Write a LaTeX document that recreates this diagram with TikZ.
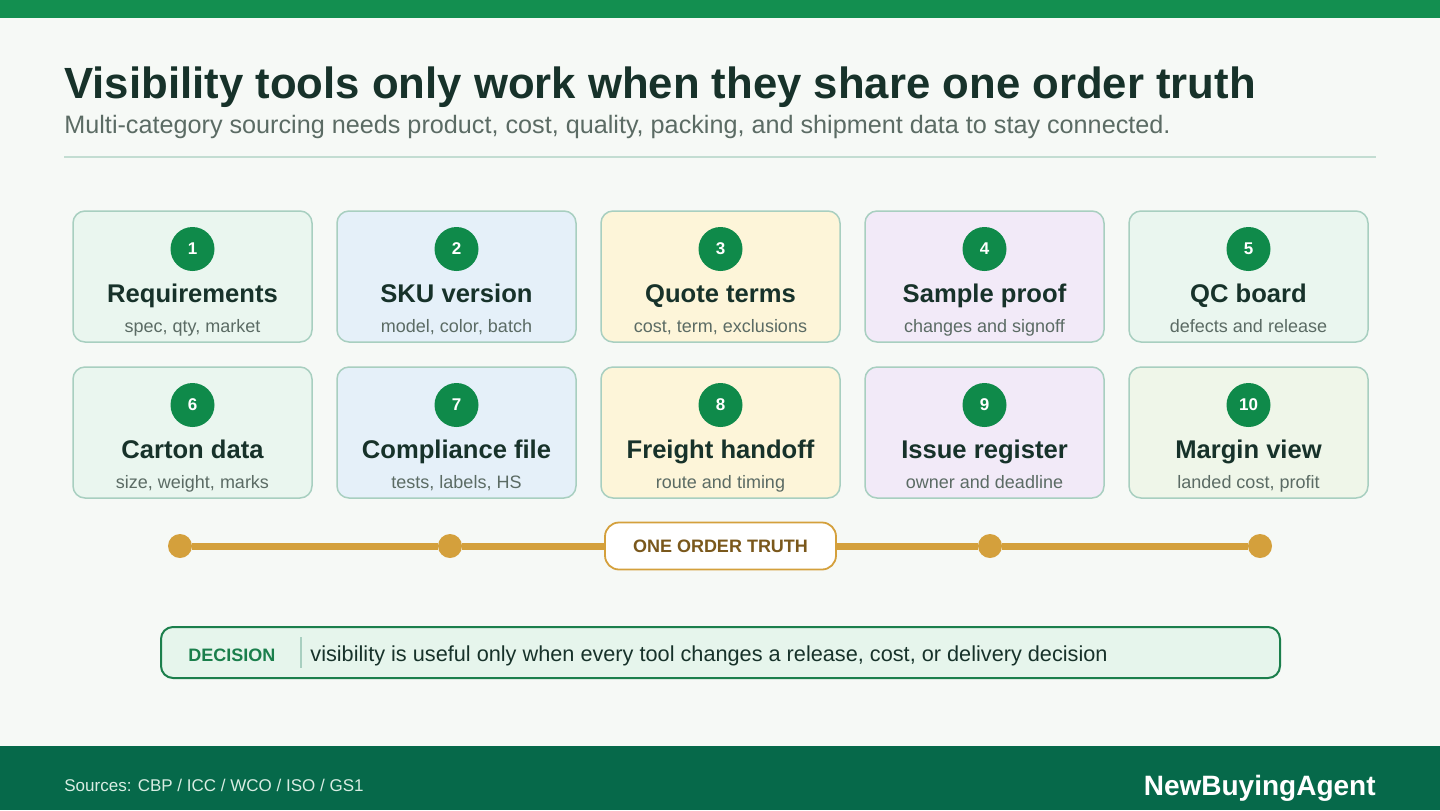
\documentclass[tikz,border=0pt]{standalone}
\usepackage{fontspec}
\setmainfont{Liberation Sans}
\usetikzlibrary{positioning, calc}

\definecolor{bgcol}{HTML}{F6F9F6}
\definecolor{topgreen}{HTML}{138F50}
\definecolor{footgreen}{HTML}{06694A}
\definecolor{inkdark}{HTML}{17322A}
\definecolor{inkgray}{HTML}{5B6B64}
\definecolor{rulecol}{HTML}{C3DDD2}
\definecolor{cardline}{HTML}{A8CFC0}
\definecolor{cardA}{HTML}{EAF6EF}
\definecolor{cardB}{HTML}{E5F0F9}
\definecolor{cardC}{HTML}{FDF5D9}
\definecolor{cardD}{HTML}{F2EAF8}
\definecolor{cardE}{HTML}{EFF6E9}
\definecolor{dotgreen}{HTML}{0F8A4A}
\definecolor{railgold}{HTML}{D4A03C}
\definecolor{truthink}{HTML}{7A581C}
\definecolor{decfill}{HTML}{E6F5EC}
\definecolor{decline}{HTML}{1B7F4C}
\definecolor{sourceink}{HTML}{D9EDE3}

\begin{document}
\begin{tikzpicture}[x=0.5pt, y=-0.5pt,
  card/.style={draw=cardline, line width=0.75pt, rounded corners=6pt, minimum width=119.5pt, minimum height=65.5pt, inner sep=0pt},
  numdot/.style={circle, fill=dotgreen, minimum size=22pt, inner sep=0pt, text=white, font=\bfseries\fontsize{8.5}{9}\selectfont},
  cardhead/.style={anchor=base, text=inkdark, font=\bfseries\fontsize{12.8}{14}\selectfont},
  cardsub/.style={anchor=base, text=inkgray, font=\fontsize{9}{10}\selectfont},
  raildot/.style={circle, fill=railgold, minimum size=12pt, inner sep=0pt},
  rail/.style={railgold, line width=3.5pt}]

% page
\fill[bgcol] (0,0) rectangle (1440,810);
\fill[topgreen] (0,0) rectangle (1440,18);
\fill[footgreen] (0,746) rectangle (1440,810);

% heading
\node[anchor=base west, inner sep=0pt, text=inkdark, font=\bfseries\fontsize{21.85}{26}\selectfont] (title) at (64,98) {Visibility tools only work when they share one order truth};
\node[anchor=base west, inner sep=0pt, text=inkgray, font=\fontsize{12.6}{14}\selectfont] (subtitle) at (64,133) {Multi-category sourcing needs product, cost, quality, packing, and shipment data to stay connected.};
\draw[rulecol, line width=1pt] (64,157) -- (1376,157);

% cards
\foreach \n/\col/\row/\fillc/\head/\sub in {
  1/0/0/cardA/Requirements/{spec, qty, market},
  2/1/0/cardB/SKU version/{model, color, batch},
  3/2/0/cardC/Quote terms/{cost, term, exclusions},
  4/3/0/cardD/Sample proof/{changes and signoff},
  5/4/0/cardA/QC board/{defects and release},
  6/0/1/cardA/Carton data/{size, weight, marks},
  7/1/1/cardB/Compliance file/{tests, labels, HS},
  8/2/1/cardC/Freight handoff/{route and timing},
  9/3/1/cardD/Issue register/{owner and deadline},
  10/4/1/cardE/Margin view/{landed cost, profit}} {
  \node[card, fill=\fillc] (card\n) at ({192.5+264*\col},{276.5+156*\row}) {};
  \node[numdot] (num\n) at ($(card\n.center)+(0,-27.5)$) {\n};
  \node[cardhead] (head\n) at ($(card\n.center)+(0,25.5)$) {\head};
  \node[cardsub] (sub\n) at ($(card\n.center)+(0,55.5)$) {\sub};
}

% order truth rail
\node[raildot] (dot1) at (180,546) {};
\node[raildot] (dot2) at (450,546) {};
\node[raildot] (dot3) at (990,546) {};
\node[raildot] (dot4) at (1260,546) {};
\node[minimum width=115.5pt, minimum height=23.5pt] (truth) at (720.5,546) {};
\draw[rail] (dot1) -- (dot2);
\draw[rail] (dot2) -- (truth);
\draw[rail] (truth) -- (dot3);
\draw[rail] (dot3) -- (dot4);
\node[draw=railgold, line width=0.9pt, fill=white, rounded corners=7pt, minimum width=115.5pt, minimum height=23.5pt, text=truthink, font=\bfseries\fontsize{9}{10}\selectfont] at (truth) {ONE ORDER TRUTH};

% decision
\node[draw=decline, line width=1pt, fill=decfill, rounded corners=6pt, minimum width=559.5pt, minimum height=25.5pt] (decision) at (720.5,652.5) {};
\node[anchor=base west, inner sep=0pt, text=decline, font=\bfseries\fontsize{9}{10}\selectfont] (declabel) at (188,661) {DECISION};
\draw[cardline, line width=1pt] (301,637) -- (301,668);
\node[anchor=base west, inner sep=0pt, text=inkdark, font=\fontsize{10.85}{12}\selectfont] (dectext) at (310,661) {visibility is useful only when every tool changes a release, cost, or delivery decision};

% footer
\node[anchor=base west, inner sep=0pt, text=sourceink, font=\fontsize{8.5}{10}\selectfont] (sources) at (64,791) {Sources: CBP / ICC / WCO / ISO / GS1};
\node[anchor=base east, inner sep=0pt, text=white, font=\bfseries\fontsize{14}{16}\selectfont] (brand) at (1376,795) {NewBuyingAgent};

\end{tikzpicture}
\end{document}
